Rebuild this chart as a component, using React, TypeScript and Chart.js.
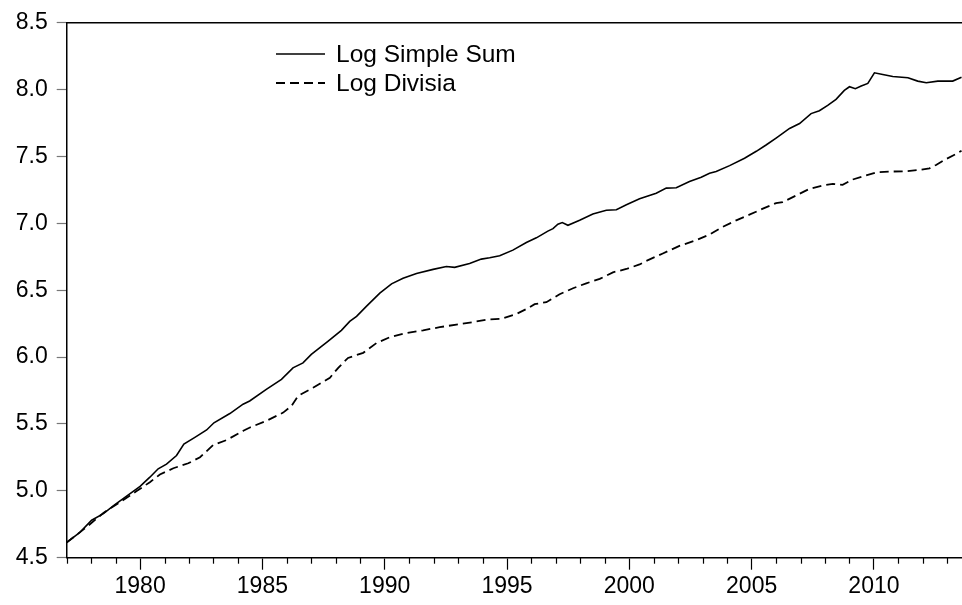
import React, { useEffect, useRef } from 'react';
import { Chart, registerables } from 'chart.js';

Chart.register(...registerables);

const seriesLabels = ['Log Simple Sum', 'Log Divisia'];

const simpleSumYears = [
  1977.0, 1977.54, 1978.02, 1978.5, 1978.97, 1979.45, 1980.0, 1980.4, 1980.74, 1981.08,
  1981.49, 1981.79, 1982.24, 1982.72, 1983.02, 1983.67, 1984.21, 1984.48, 1985.16, 1985.78,
  1986.25, 1986.66, 1987.0, 1987.69, 1988.23, 1988.57, 1988.85, 1989.25, 1989.8, 1990.28,
  1990.75, 1991.3, 1991.98, 1992.52, 1992.86, 1993.47, 1993.95, 1994.29, 1994.7, 1995.24,
  1995.79, 1996.2, 1996.67, 1996.88, 1997.08, 1997.26, 1997.49, 1997.97, 1998.51, 1999.06,
  1999.47, 1999.88, 2000.42, 2001.1, 2001.51, 2001.92, 2002.46, 2002.94, 2003.28, 2003.55,
  2004.1, 2004.71, 2005.19, 2005.59, 2006.0, 2006.55, 2006.96, 2007.43, 2007.77, 2008.11,
  2008.45, 2008.79, 2009.0, 2009.24, 2009.48, 2009.75, 2010.02, 2010.36, 2010.77, 2011.39,
  2011.79, 2012.14, 2012.61, 2013.22, 2013.58,
];
const simpleSumValues = [
  4.614, 4.689, 4.78, 4.83, 4.897, 4.961, 5.033, 5.102, 5.165, 5.2,
  5.264, 5.35, 5.4, 5.455, 5.509, 5.578, 5.648, 5.672, 5.759, 5.834,
  5.92, 5.957, 6.02, 6.119, 6.2, 6.267, 6.305, 6.379, 6.478, 6.548,
  6.589, 6.626, 6.656, 6.678, 6.671, 6.7, 6.733, 6.743, 6.758, 6.8,
  6.857, 6.892, 6.942, 6.961, 6.994, 7.006, 6.986, 7.023, 7.07, 7.098,
  7.102, 7.139, 7.184, 7.226, 7.264, 7.266, 7.313, 7.345, 7.375, 7.388,
  7.432, 7.487, 7.539, 7.586, 7.638, 7.71, 7.747, 7.821, 7.843, 7.883,
  7.928, 7.995, 8.022, 8.007, 8.027, 8.047, 8.126, 8.113, 8.098, 8.089,
  8.064, 8.052, 8.064, 8.064, 8.092,
];

const divisiaYears = [
  1977.0, 1977.82, 1978.5, 1979.18, 1979.86, 1980.4, 1980.81, 1981.36, 1981.97, 1982.45,
  1982.99, 1983.54, 1984.22, 1984.49, 1985.17, 1985.85, 1986.19, 1986.46, 1987.07, 1987.76,
  1988.1, 1988.5, 1989.12, 1989.67, 1990.2, 1990.89, 1991.57, 1992.25, 1992.93, 1993.61,
  1994.16, 1994.77, 1995.38, 1995.86, 1996.13, 1996.61, 1997.15, 1997.7, 1998.24, 1998.79,
  1999.33, 1999.88, 2000.42, 2000.69, 2001.37, 2002.05, 2002.74, 2003.28, 2003.82, 2004.37,
  2004.91, 2005.46, 2006.0, 2006.27, 2006.82, 2007.36, 2007.91, 2008.32, 2008.72, 2009.13,
  2009.67, 2010.15, 2010.77, 2011.31, 2011.86, 2012.27, 2012.54, 2012.95, 2013.36, 2013.58,
];
const divisiaValues = [
  4.614, 4.73, 4.835, 4.916, 4.998, 5.065, 5.122, 5.169, 5.206, 5.251,
  5.343, 5.38, 5.449, 5.474, 5.524, 5.585, 5.635, 5.71, 5.771, 5.846,
  5.92, 5.994, 6.032, 6.106, 6.148, 6.18, 6.2, 6.224, 6.243, 6.262,
  6.28, 6.287, 6.322, 6.366, 6.396, 6.411, 6.47, 6.515, 6.552, 6.585,
  6.634, 6.659, 6.693, 6.719, 6.775, 6.832, 6.875, 6.916, 6.974, 7.023,
  7.065, 7.11, 7.152, 7.159, 7.209, 7.258, 7.284, 7.296, 7.288, 7.328,
  7.358, 7.383, 7.388, 7.39, 7.4, 7.412, 7.437, 7.481, 7.519, 7.544,
];

const xMin = 1977;
const xMax = 2013.6;
const yMin = 4.5;
const yMax = 8.5;
const yStep = 0.5;
const xLabelStep = 5;

const FONT = 'Arial, "Liberation Sans", sans-serif';
const FONT_SIZE = 23;
const LEGEND_FONT_SIZE = 24.5;

const framePlugin = {
  id: 'frameAndLegend',
  afterDraw(chart: any) {
    const { ctx, chartArea } = chart;
    const xs = chart.scales.x;
    ctx.save();
    // top frame line
    ctx.strokeStyle = '#000';
    ctx.lineWidth = 1.5;
    ctx.beginPath();
    ctx.moveTo(chartArea.left, chartArea.top);
    ctx.lineTo(chartArea.right + 2, chartArea.top);
    ctx.stroke();
    // minor yearly ticks
    ctx.lineWidth = 1.2;
    for (let yr = Math.ceil(xMin); yr <= Math.floor(xMax); yr++) {
      if (yr % xLabelStep === 0) continue;
      const px = Math.round(xs.getPixelForValue(yr)) + 0.5;
      ctx.beginPath();
      ctx.moveTo(px, chartArea.bottom);
      ctx.lineTo(px, chartArea.bottom + 6);
      ctx.stroke();
    }
    // legend
    const lx0 = 276;
    const lx1 = 325;
    const rows = [54, 83];
    chart.data.datasets.forEach((ds: any, i: number) => {
      const y = rows[i];
      ctx.strokeStyle = '#000';
      ctx.lineWidth = ds.borderWidth;
      ctx.setLineDash(ds.borderDash || []);
      ctx.beginPath();
      ctx.moveTo(lx0, y);
      ctx.lineTo(lx1, y);
      ctx.stroke();
      ctx.setLineDash([]);
      ctx.fillStyle = '#000';
      ctx.font = `${LEGEND_FONT_SIZE}px ${FONT}`;
      ctx.textBaseline = 'middle';
      ctx.textAlign = 'left';
      ctx.fillText(ds.label, 336, y + 1);
    });
    ctx.restore();
  },
};

export default function App() {
  const canvasRef = useRef<HTMLCanvasElement | null>(null);

  useEffect(() => {
    if (!canvasRef.current) return;
    const chart = new Chart(canvasRef.current, {
      type: 'line',
      data: {
        datasets: [
          {
            label: seriesLabels[0],
            data: simpleSumYears.map((x, i) => ({ x, y: simpleSumValues[i] })),
            borderColor: '#000',
            borderWidth: 1.6,
            pointRadius: 0,
            tension: 0,
            fill: false,
            borderDash: [],
          },
          {
            label: seriesLabels[1],
            data: divisiaYears.map((x, i) => ({ x, y: divisiaValues[i] })),
            borderColor: '#000',
            borderWidth: 1.8,
            pointRadius: 0,
            tension: 0,
            fill: false,
            borderDash: [9, 5],
          },
        ],
      },
      options: {
        responsive: false,
        animation: false,
        devicePixelRatio: 1,
        layout: { padding: { top: 19.7, left: 0, right: 0, bottom: 0 } },
        plugins: {
          legend: { display: false },
          tooltip: { enabled: false },
        },
        scales: {
          x: {
            type: 'linear',
            position: 'bottom',
            min: xMin,
            max: xMax,
            afterFit: (s: any) => {
              s.height = 47.3;
            },
            ticks: {
              stepSize: 1,
              autoSkip: false,
              includeBounds: false,
              maxRotation: 0,
              padding: 3,
              color: '#000',
              font: { family: FONT, size: FONT_SIZE },
              callback: (v: any) => (Number(v) % xLabelStep === 0 ? String(v) : ''),
            },
            grid: {
              drawOnChartArea: false,
              drawTicks: true,
              tickLength: 12,
              tickWidth: 1.2,
              tickColor: (c: any) =>
                c.tick && Number(c.tick.value) % xLabelStep === 0 ? '#000' : 'rgba(0,0,0,0)',
            },
            border: { display: true, color: '#000', width: 1.5 },
          },
          y: {
            type: 'linear',
            position: 'left',
            min: yMin,
            max: yMax,
            afterFit: (s: any) => {
              s.width = 66.7;
            },
            ticks: {
              stepSize: yStep,
              padding: 9,
              color: '#000',
              font: { family: FONT, size: FONT_SIZE },
              callback: (v: any) => Number(v).toFixed(1),
            },
            grid: {
              drawOnChartArea: false,
              drawTicks: true,
              tickLength: 10,
              tickWidth: 1.2,
              tickColor: '#777',
            },
            border: { display: true, color: '#000', width: 1.5 },
          },
        },
      },
      plugins: [framePlugin],
    });
    return () => chart.destroy();
  }, []);

  return (
    <div style={{ position: 'absolute', left: 0, top: 0, width: 962, height: 605, overflow: 'hidden', background: '#fff' }}>
      <canvas ref={canvasRef} width={962} height={605} style={{ width: 962, height: 605, display: 'block' }} />
    </div>
  );
}
